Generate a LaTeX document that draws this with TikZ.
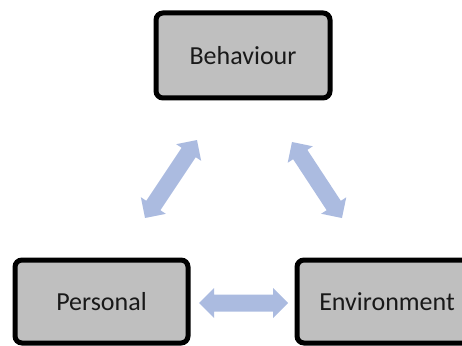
\documentclass[tikz,border=0pt]{standalone}
\usepackage{fontspec}
\setmainfont{Carlito}
\definecolor{arrowblue}{RGB}{171,187,224}
\definecolor{boxgray}{RGB}{191,191,191}
\tikzset{
  x=1pt, y=1pt,
  factor/.style={draw=black, line width=5pt, fill=boxgray, rounded corners=7pt,
    inner sep=0pt, font=\fontsize{26}{30}\selectfont, text=black!90},
  pics/darrow/.style={code={
    \fill[arrowblue] (0,0) -- (15,15) -- (15,8.5) -- (#1-15,8.5) -- (#1-15,15)
      -- (#1,0) -- (#1-15,-15) -- (#1-15,-8.5) -- (15,-8.5) -- (15,-15) -- cycle;}}
}
\begin{document}
\begin{tikzpicture}
\useasboundingbox (0,0) rectangle (462,345);
\clip (0,0) rectangle (462,345);
\node[factor, minimum width=174pt, minimum height=85pt] (beh) at (243,289.5) {Behaviour};
\node[factor, minimum width=173pt, minimum height=83pt] (per) at (101.5,43.5) {Personal};
\node[factor, minimum width=180pt, minimum height=83pt] (env) at (387,43.5) {Environment};
\pic at (199,42) {darrow=89};
\pic[rotate=56.3] at (145,127) {darrow=93.7};
\pic[rotate=-56.7] at (292,203) {darrow=91};
\end{tikzpicture}
\end{document}
